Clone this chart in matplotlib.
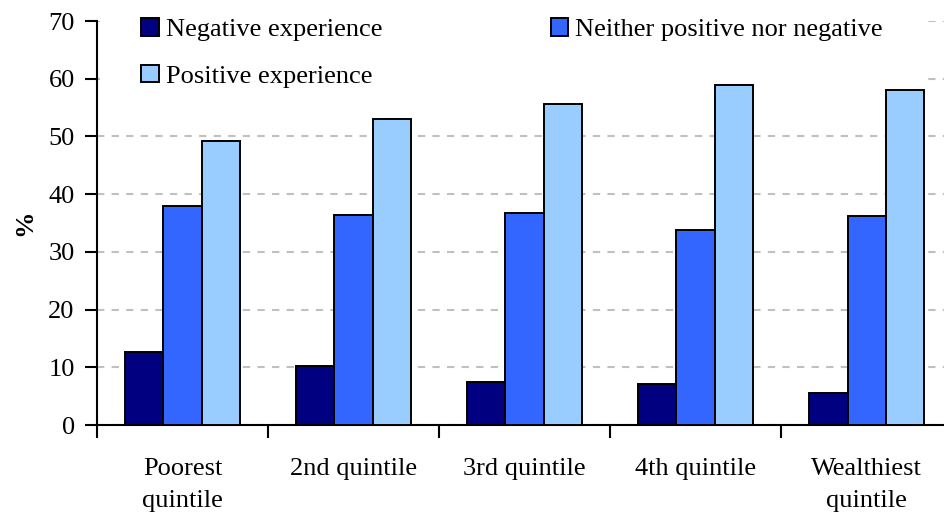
import numpy as np
import matplotlib
matplotlib.use("Agg")
import matplotlib.pyplot as plt
from matplotlib.patches import Rectangle

categories = ["Poorest\nquintile", "2nd quintile", "3rd quintile", "4th quintile", "Wealthiest\nquintile"]
negative = [12.6, 10.3, 7.5, 7.1, 5.6]
neither = [37.9, 36.4, 36.8, 33.8, 36.2]
positive = [49.2, 53.1, 55.6, 59.0, 58.1]

plt.rcParams["font.family"] = ["Liberation Serif", "DejaVu Serif"]
FS = 19

fig = plt.figure(figsize=(9.45, 5.13), dpi=100)
ax = fig.add_axes([0.1026, 0.1715, 0.905, 0.7875])

x = np.arange(len(categories))
w = 0.224
bar_kw = dict(width=w, edgecolor="black", linewidth=1.4, zorder=3)
b_neg = ax.bar(x - w, negative, color="#000080", label="Negative experience", **bar_kw)
b_nei = ax.bar(x, neither, color="#3366FF", label="Neither positive nor negative", **bar_kw)
b_pos = ax.bar(x + w, positive, color="#99CCFF", label="Positive experience", **bar_kw)

ax.set_xlim(-0.5, len(categories) - 0.5)
ax.set_ylim(0, 70)
ax.set_yticks(range(0, 71, 10))
ax.yaxis.grid(True, color="#C0C0C0", linestyle=(0, (3.5, 3.5)), linewidth=1.5)

# white area behind the legend hides the top gridlines
ax.add_patch(Rectangle((0.003, 0.851), 0.965, 0.16, transform=ax.transAxes,
                       facecolor="white", edgecolor="none", zorder=2, clip_on=False))

# category boundaries as major ticks, labels on minor ticks
ax.set_xticks(np.arange(-0.5, len(categories), 1.0))
ax.set_xticklabels([])
ax.set_xticks(x, minor=True)
ax.set_xticklabels(categories, minor=True, fontsize=FS, linespacing=1.55)
ax.tick_params(axis="x", which="minor", length=0, pad=24)
ax.tick_params(axis="x", which="major", direction="out", length=9, width=1.5)
ax.tick_params(axis="y", direction="out", length=9, width=1.5, labelsize=FS, pad=7)

for s in ["top", "right"]:
    ax.spines[s].set_visible(False)
for s in ["left", "bottom"]:
    ax.spines[s].set_linewidth(1.5)

ax.set_ylabel("%", fontsize=FS, fontweight="bold", labelpad=9)

leg = fig.legend(handles=[b_neg, b_pos, b_nei], ncol=2, loc="upper left",
                 bbox_to_anchor=(141.5 / 945, 0.965), fontsize=FS, frameon=False,
                 handlelength=0.65, handleheight=0.65, handletextpad=0.27,
                 labelspacing=0.9, columnspacing=6.4, borderpad=0, borderaxespad=0)
for h in leg.legend_handles:
    h.set_edgecolor("black")
    h.set_linewidth(1.4)

fig.savefig("out.png", dpi=100)
